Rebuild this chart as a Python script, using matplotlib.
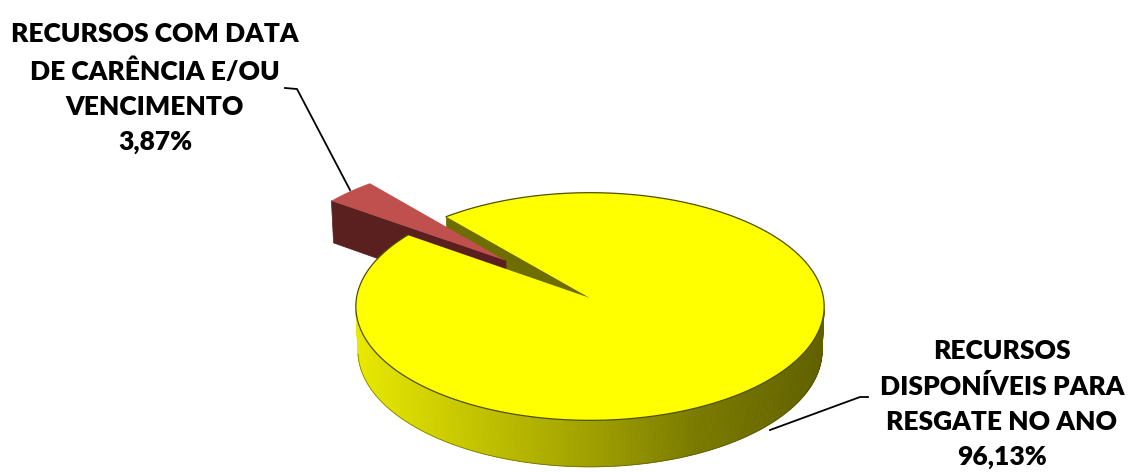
import matplotlib

matplotlib.use('Agg')
import matplotlib.pyplot as plt
import numpy as np
from matplotlib.patches import Polygon

plt.rcParams['font.family'] = ['Lato', 'DejaVu Sans']

labels = ['RECURSOS\nDISPONÍVEIS PARA\nRESGATE NO ANO',
          'RECURSOS COM DATA\nDE CARÊNCIA E/OU\nVENCIMENTO']
values = [96.13, 3.87]
explode = [0.0, 0.5]
top_colors = ['#ffff00', '#c0504d']
cut_colors = ['#6e6e00', '#5a2020']

# simple perspective camera for the tilted disc
F, D = 2732.0, 11.7
PHI = np.radians(29)
CX, CY = 590.0, 298.0
H = 0.218
START = 229.4


def proj(x, y, z):
    x, y, z = np.broadcast_arrays(x, y, z)
    yc = y * np.cos(PHI) - z * np.sin(PHI)
    depth = D - (y * np.sin(PHI) + z * np.cos(PHI))
    return np.column_stack([CX + F * x / depth, CY - F * yc / depth])


def wall_shade(px):
    return np.interp(px, [357, 495, 595, 695, 822],
                     [0.91, 0.74, 0.62, 0.48, 0.38])


fig = plt.figure(figsize=(11.34, 4.72), dpi=100)
ax = fig.add_axes([0, 0, 1, 1])
ax.set_xlim(0, 1134)
ax.set_ylim(472, 0)
ax.axis('off')

fracs = np.array(values) / sum(values)
bounds = START + np.concatenate([[0], np.cumsum(fracs)]) * 360
cam = np.array([0, D * np.sin(PHI), D * np.cos(PHI)])

slices = []
for i, v in enumerate(values):
    t0, t1 = np.radians(bounds[i]), np.radians(bounds[i + 1])
    mid = (t0 + t1) / 2
    ox, oz = explode[i] * np.cos(mid), explode[i] * np.sin(mid)
    slices.append((i, t0, t1, ox, oz))


def draw_sides(i, t0, t1, ox, oz):
    # outer wall, only the part facing the camera
    t = np.linspace(t0, t1, 600)
    vis = -ox * np.cos(t) - oz * np.sin(t) - 1 + cam[2] * np.sin(t) > 0
    rgb = np.array(matplotlib.colors.to_rgb(top_colors[i]))
    tv = t[vis]
    for a, b in zip(tv[:-1], tv[1:]):
        ts = np.array([a, b])
        top = proj(ox + np.cos(ts), 0, oz + np.sin(ts))
        bot = proj(ox + np.cos(ts), -H, oz + np.sin(ts))
        c = rgb * wall_shade(top[:, 0].mean())
        ax.add_patch(Polygon(np.vstack([top, bot[::-1]]), closed=True,
                             facecolor=c, edgecolor=c, lw=0.6))
    if len(tv):
        ax.plot(*proj(ox + np.cos(tv), -H, oz + np.sin(tv)).T,
                color='#4a4a00', lw=0.6, alpha=0.6)
    # radial cut faces
    for th, sgn in ((t0, 1), (t1, -1)):
        n = sgn * np.array([np.sin(th), 0, -np.cos(th)])
        if n @ (cam - np.array([ox, 0, oz])) <= 0:
            continue
        rx, rz = ox + np.cos(th), oz + np.sin(th)
        pts = np.vstack([proj(ox, 0, oz), proj(rx, 0, rz),
                         proj(rx, -H, rz), proj(ox, -H, oz)])
        ax.add_patch(Polygon(pts, closed=True, facecolor=cut_colors[i],
                             edgecolor=cut_colors[i], lw=0.5))


def draw_top(i, t0, t1, ox, oz, edge):
    t = np.linspace(t0, t1, 600)
    arc = proj(ox + np.cos(t), 0, oz + np.sin(t))
    pts = np.vstack([proj(ox, 0, oz), arc])
    ax.add_patch(Polygon(pts, closed=True, facecolor=top_colors[i],
                         edgecolor='none'))
    if edge:
        ax.plot(*arc.T, color='#505000', lw=0.9)


flat = [s for s in slices if explode[s[0]] == 0]
pulled = [s for s in slices if explode[s[0]] != 0]
for s in flat:
    draw_sides(*s)
for s in pulled:
    draw_sides(*s)
    draw_top(*s, edge=False)
for s in flat:
    draw_top(*s, edge=True)

pct = [f'{v:.2f}%'.replace('.', ',') for v in values]

# leader lines and labels
ax.plot([770, 860, 868], [430, 397, 397], color='black', lw=1.3)
ax.plot([350, 297, 285], [190, 89, 88], color='black', lw=1.3)
ax.text(1002, 404, f'{labels[0]}\n{pct[0]}', ha='center', va='center',
        fontsize=19, fontweight='heavy', linespacing=1.55)
ax.text(155, 88, f'{labels[1]}\n{pct[1]}', ha='center', va='center',
        fontsize=19, fontweight='heavy', linespacing=1.55)

fig.savefig('out.png', dpi=100)
